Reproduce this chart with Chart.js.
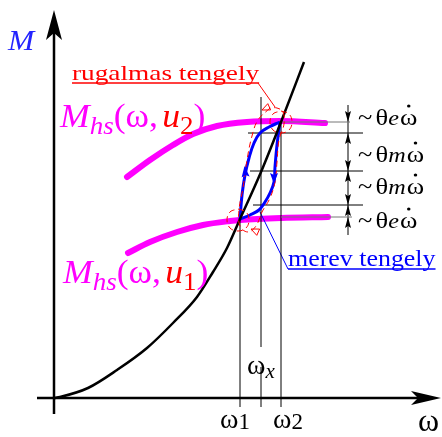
<!DOCTYPE html>
<html>
<head>
<meta charset="utf-8">
<script src="https://cdn.jsdelivr.net/npm/chart.js@4.4.1/dist/chart.umd.min.js"></script>
<style>
  html, body { margin: 0; padding: 0; background: #fff; }
  canvas { display: block; }
</style>
</head>
<body>
<canvas id="myChart" width="442" height="437"></canvas>
<script>
// load torque curve (black)
const loadW = [0, 6, 34, 63, 93, 119, 143, 159, 173, 186, 207, 227, 250];
const loadM = [0, 1, 10, 28, 50, 75, 101, 126, 150, 179, 226, 276, 336];

// motor curves M_hs(w, u2) and M_hs(w, u1)
const hsU2W = [73, 96, 119, 139, 163, 193, 227, 271];
const hsU2M = [221, 238, 253, 264, 272, 276, 277, 275];
const hsU1W = [74, 96, 123, 149, 176, 186, 227, 274];
const hsU1M = [145, 156, 166, 173, 177, 178, 180, 181];

// transient path, merev tengely (up and down)
const upW = [186, 188, 191, 195, 200, 206, 215, 226];
const upM = [179, 203, 223, 240, 255, 265, 271, 276];
const downW = [226, 223, 221, 220, 216, 211, 205, 196, 186];
const downM = [276, 253, 231, 216, 205, 196, 188, 183, 179];

// rugalmas tengely envelope + small circles at the two working points
const envW = [216, 204, 198, 193, 189, 185, 186, 194, 202, 208, 216, 221, 223, 225, 230, 229, 223, 216];
const envM = [290, 278, 262, 238, 210, 188, 172, 166, 172, 186, 200, 216, 236, 258, 274, 286, 290, 290];
const ringHiW = [227, 235, 238, 235, 227, 219, 216, 219, 227];
const ringHiM = [287, 284, 276, 268, 265, 268, 276, 284, 287];
const ringLoW = [184, 192, 195, 192, 184, 176, 173, 176, 184];
const ringLoM = [189, 186, 178, 170, 167, 170, 178, 186, 189];

// omega ticks: w1, wx, w2
const wTicks = [186, 207, 227];
const wTickNames = ['1', 'x', '2'];
// torque levels on the right
const levels = [276, 265, 227, 193, 181];
const levelNames = ['e', 'm', 'm', 'e'];

const MAG = '#ff00ff';
const RED = '#ff0000';
const BLUE = '#0000ff';
const serif = '"Liberation Serif"';

function pts(xs, ys) {
	return xs.map((x, i) => ({ x: x, y: ys[i] }));
}
function line(data, color, width, extra) {
	return Object.assign({
		data: data, borderColor: color, borderWidth: width,
		pointRadius: 0, showLine: true, fill: false, tension: 0
	}, extra || {});
}

const red = { borderDash: [6, 4], tension: 0.4 };

const datasets = [
	line(pts(envW, envM), RED, 1, red),
	line(pts(ringHiW, ringHiM), RED, 1, red),
	line(pts(ringLoW, ringLoM), RED, 1, red),
	line(pts(loadW, loadM), '#000', 2.5, { cubicInterpolationMode: 'monotone' }),
	line(pts(upW, upM), BLUE, 3, { tension: 0.4 }),
	line(pts(downW, downM), BLUE, 3, { tension: 0.4 }),
	// level lines
	line([{ x: wTicks[2], y: levels[0] }, { x: 296, y: levels[0] }], '#777', 1),
	line([{ x: 194, y: levels[1] }, { x: 309, y: levels[1] }], '#000', 1),
	line([{ x: 196, y: levels[2] }, { x: 309, y: levels[2] }], '#000', 1),
	line([{ x: 199, y: levels[3] }, { x: 309, y: levels[3] }], '#000', 1),
	line([{ x: wTicks[2], y: levels[4] }, { x: 298, y: levels[4] }], '#777', 1),
	// dimension line
	line([{ x: 294, y: 163 }, { x: 294, y: 293 }], '#000', 1),
	// omega lines
	line([{ x: wTicks[0], y: -9 }, { x: wTicks[0], y: 180 }], '#000', 1),
	line([{ x: wTicks[1], y: -9 }, { x: wTicks[1], y: 31 }], '#000', 1),
	line([{ x: wTicks[1], y: 51 }, { x: wTicks[1], y: 301 }], '#000', 1),
	line([{ x: wTicks[2], y: -9 }, { x: wTicks[2], y: 276 }], '#000', 1),
	// leaders
	line([{ x: 204, y: 315 }, { x: 221, y: 291 }], RED, 1),
	line([{ x: 206, y: 186 }, { x: 234, y: 129 }], BLUE, 1),
	// motor curves
	line(pts(hsU2W, hsU2M), MAG, 6, { cubicInterpolationMode: 'monotone', borderCapStyle: 'round' }),
	line(pts(hsU1W, hsU1M), MAG, 6, { cubicInterpolationMode: 'monotone', borderCapStyle: 'round' }),
	// axes
	line([{ x: 0, y: -16 }, { x: 0, y: 370 }], '#000', 2.5),
	line([{ x: -17, y: 0 }, { x: 370, y: 0 }], '#000', 2.5)
];

function drawRich(ctx, x, y, parts, sx) {
	ctx.save();
	ctx.translate(x, y);
	ctx.scale(sx, 1);
	let cx = 0;
	for (const p of parts) {
		ctx.font = p.f;
		ctx.fillStyle = p.c;
		ctx.fillText(p.t, cx, p.dy || 0);
		const w = ctx.measureText(p.t).width;
		if (p.dot) {
			ctx.beginPath();
			ctx.arc(cx + w / 2, -p.dot, 1.6, 0, Math.PI * 2);
			ctx.fill();
		}
		cx += w + (p.gap || 0);
	}
	ctx.restore();
	return cx * sx;
}

function arrow(ctx, tx, ty, dx, dy, len, half, notch, color) {
	const px = -dy, py = dx;
	ctx.beginPath();
	ctx.moveTo(tx, ty);
	ctx.lineTo(tx - dx * len + px * half, ty - dy * len + py * half);
	ctx.lineTo(tx - dx * (len - notch), ty - dy * (len - notch));
	ctx.lineTo(tx - dx * len - px * half, ty - dy * len - py * half);
	ctx.closePath();
	ctx.fillStyle = color;
	ctx.fill();
}

function hollow(ctx, tx, ty, dx, dy, len, half, color) {
	const px = -dy, py = dx;
	ctx.beginPath();
	ctx.moveTo(tx, ty);
	ctx.lineTo(tx - dx * len + px * half, ty - dy * len + py * half);
	ctx.lineTo(tx - dx * len - px * half, ty - dy * len - py * half);
	ctx.closePath();
	ctx.strokeStyle = color;
	ctx.lineWidth = 1;
	ctx.stroke();
}

const annot = {
	id: 'annot',
	afterDatasetsDraw(chart) {
		const ctx = chart.ctx;
		const X = v => chart.scales.x.getPixelForValue(v);
		const Y = v => chart.scales.y.getPixelForValue(v);
		ctx.save();

		// axis arrows
		arrow(ctx, X(0), Y(388), 0, -1, 30, 8, 7, '#000');
		arrow(ctx, X(387), Y(0), 1, 0, 30, 7, 7, '#000');

		// dimension arrows
		const dx = X(294);
		arrow(ctx, dx, Y(levels[0]), 0, 1, 11, 3, 2, '#000');
		arrow(ctx, dx, Y(levels[1]), 0, -1, 11, 3, 2, '#000');
		arrow(ctx, dx, Y(levels[2]), 0, 1, 11, 3, 2, '#000');
		arrow(ctx, dx, Y(levels[2]), 0, -1, 11, 3, 2, '#000');
		arrow(ctx, dx, Y(levels[3]), 0, 1, 11, 3, 2, '#000');
		arrow(ctx, dx, Y(levels[3]), 0, -1, 11, 3, 2, '#000');
		arrow(ctx, dx, Y(levels[4]), 0, -1, 11, 3, 2, '#000');

		// blue direction arrows on the loop
		arrow(ctx, X(190.5), Y(232), -0.1, -1, 11, 4, 2, BLUE);
		arrow(ctx, X(220), Y(214), 0, 1, 11, 4, 2, BLUE);

		// red arrowheads on the envelope
		hollow(ctx, X(208), Y(288), -0.9, 0.4, 8, 3.5, RED);
		hollow(ctx, X(197), Y(169), -0.9, -0.4, 8, 3.5, RED);

		ctx.textBaseline = 'alphabetic';

		// axis titles
		drawRich(ctx, X(-46), Y(348), [{ t: 'M', f: 'italic 30px ' + serif, c: '#2424ff' }], 1.05);
		drawRich(ctx, X(364), Y(-33), [{ t: 'ω', f: '32px ' + serif, c: '#000' }], 1);

		// omega ticks
		drawRich(ctx, X(166), Y(-30), [
			{ t: 'ω', f: '28px ' + serif, c: '#000' },
			{ t: wTickNames[0], f: '23px ' + serif, c: '#000', dy: 1 }
		], 1);
		drawRich(ctx, X(219), Y(-30), [
			{ t: 'ω', f: '28px ' + serif, c: '#000' },
			{ t: wTickNames[2], f: '23px ' + serif, c: '#000', dy: 1 }
		], 1);
		drawRich(ctx, X(193), Y(24), [
			{ t: 'ω', f: '28px ' + serif, c: '#000' },
			{ t: wTickNames[1], f: 'italic 21px ' + serif, c: '#000', dy: 4 }
		], 1);

		// motor curve labels
		const hs = u => [
			{ t: 'M', f: 'italic 33px ' + serif, c: MAG },
			{ t: 'hs', f: 'italic 25px ' + serif, c: MAG, dy: 7 },
			{ t: '(ω,', f: '33px ' + serif, c: MAG, gap: 4 },
			{ t: 'u', f: 'italic 33px ' + serif, c: RED },
			{ t: u, f: '25px ' + serif, c: RED, dy: 7 },
			{ t: ')', f: '33px ' + serif, c: MAG }
		];
		drawRich(ctx, X(6), Y(271), hs('2'), 1.08);
		drawRich(ctx, X(9), Y(115), hs('1'), 1.08);

		// rugalmas tengely
		let w = drawRich(ctx, X(18), Y(318), [{ t: 'rugalmas tengely', f: '22px ' + serif, c: RED }], 1.24);
		ctx.strokeStyle = RED;
		ctx.lineWidth = 1.5;
		ctx.beginPath();
		ctx.moveTo(X(18), Y(315));
		ctx.lineTo(X(18) + w, Y(315));
		ctx.stroke();

		// merev tengely
		w = drawRich(ctx, X(234), Y(132), [{ t: 'merev tengely', f: '24px ' + serif, c: BLUE }], 1.08);
		ctx.strokeStyle = BLUE;
		ctx.beginPath();
		ctx.moveTo(X(234), Y(129));
		ctx.lineTo(X(234) + w, Y(129));
		ctx.stroke();

		// right side labels
		const lab = [273, 236, 204, 170];
		lab.forEach((m, i) => {
			drawRich(ctx, X(304), Y(m), [
				{ t: '~', f: '24px ' + serif, c: '#000', gap: 3 },
				{ t: 'θ', f: '24px ' + serif, c: '#000' },
				{ t: levelNames[i], f: 'italic 22px ' + serif, c: '#000', gap: 1 },
				{ t: 'ω', f: '24px ' + serif, c: '#000', dot: 19 }
			], 1.1);
		});

		ctx.restore();
	}
};

new Chart(document.getElementById('myChart').getContext('2d'), {
	type: 'scatter',
	data: { datasets: datasets },
	options: {
		responsive: false,
		animation: false,
		devicePixelRatio: 1,
		layout: { padding: 0 },
		scales: {
			x: { type: 'linear', min: -54, max: 388, display: false },
			y: { type: 'linear', min: -39, max: 398, display: false }
		},
		plugins: { legend: { display: false }, tooltip: { enabled: false } }
	},
	plugins: [annot]
});
</script>
</body>
</html>
